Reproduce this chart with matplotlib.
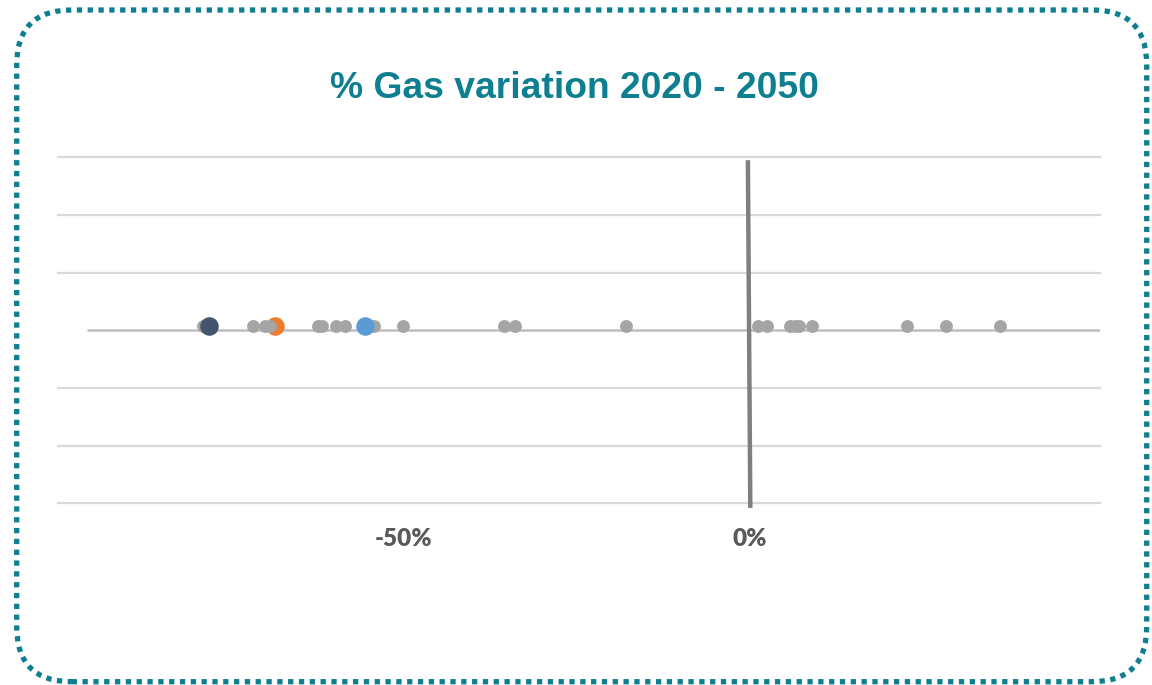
import matplotlib.pyplot as plt
from matplotlib.patches import FancyBboxPatch
from matplotlib.transforms import IdentityTransform

# % change in gas, 2020 -> 2050
others = [-79.0, -71.7, -70.0, -69.3, -62.4, -61.7, -59.7, -58.5, -54.2, -50.1,
          -35.4, -33.8, -17.8, 1.2, 2.5, 5.9, 6.6, 7.2, 9.0, 22.8, 28.5, 36.3]
highlight_dark = [-78.1]
highlight_orange = [-68.6]
highlight_blue = [-55.6]
tick_values = [-50, 0]
tick_labels = ["-50%", "0%"]
title = "% Gas variation 2020 - 2050"

teal = "#0e7f91"
W, H = 1152, 685
fig = plt.figure(figsize=(W / 100, H / 100), dpi=100)

ax = fig.add_axes([57.5 / W, 1 - 503.3 / H, (1100 - 57.5) / W, (503.3 - 157.3) / H])
ax.set_xlim(-100, 50.7)
ax.set_ylim(0, 6)
for s in ax.spines.values():
    s.set_visible(False)

# horizontal gridlines
for yv in range(7):
    if yv == 3:
        continue
    ax.axhline(yv, color="#d9d9d9", lw=1.6, zorder=1, clip_on=False)
ax.hlines(3, -95.8, 50.7, color="#bfbfbf", lw=1.8, zorder=1)

# zero reference line
ax.plot([-0.2, 0.15], [5.95, -0.08], color="#7f7f7f", lw=3.2,
        solid_capstyle="butt", zorder=2, clip_on=False)

y_pts = 3.07
ax.scatter(highlight_orange, [y_pts] * len(highlight_orange), s=18 ** 2 * 0.55,
           color="#ed7d31", zorder=3, linewidths=0)
ax.scatter(others, [y_pts] * len(others), s=12.5 ** 2 * 0.55,
           color="#a5a5a5", zorder=4, linewidths=0)
ax.scatter(highlight_dark, [y_pts] * len(highlight_dark), s=18 ** 2 * 0.55,
           color="#44546a", zorder=5, linewidths=0)
ax.scatter(highlight_blue, [y_pts] * len(highlight_blue), s=18 ** 2 * 0.55,
           color="#5b9bd5", zorder=5, linewidths=0)

ax.set_yticks([])
ax.set_xticks(tick_values)
ax.set_xticklabels(tick_labels, fontfamily="Lato", fontweight="heavy",
                   fontsize=17.5, color="#595959")
ax.tick_params(axis="x", length=0, pad=18)

fig.text(574 / W, 1 - 88 / H, title, ha="center", va="center",
         fontfamily="Liberation Sans", fontweight="bold", fontsize=26.8,
         color=teal)

# dotted rounded frame around the whole chart
left, right = 16.7, 1146.7
top, bottom = H - 10.0, H - 681.7
frame = FancyBboxPatch((left, bottom), right - left, top - bottom,
                       boxstyle="round,pad=0,rounding_size=55",
                       transform=IdentityTransform(), fill=False,
                       edgecolor=teal, lw=3.8, linestyle=(0, (1, 1.05)),
                       capstyle="butt")
fig.patches.append(frame)

fig.savefig("out.png", dpi=100)
